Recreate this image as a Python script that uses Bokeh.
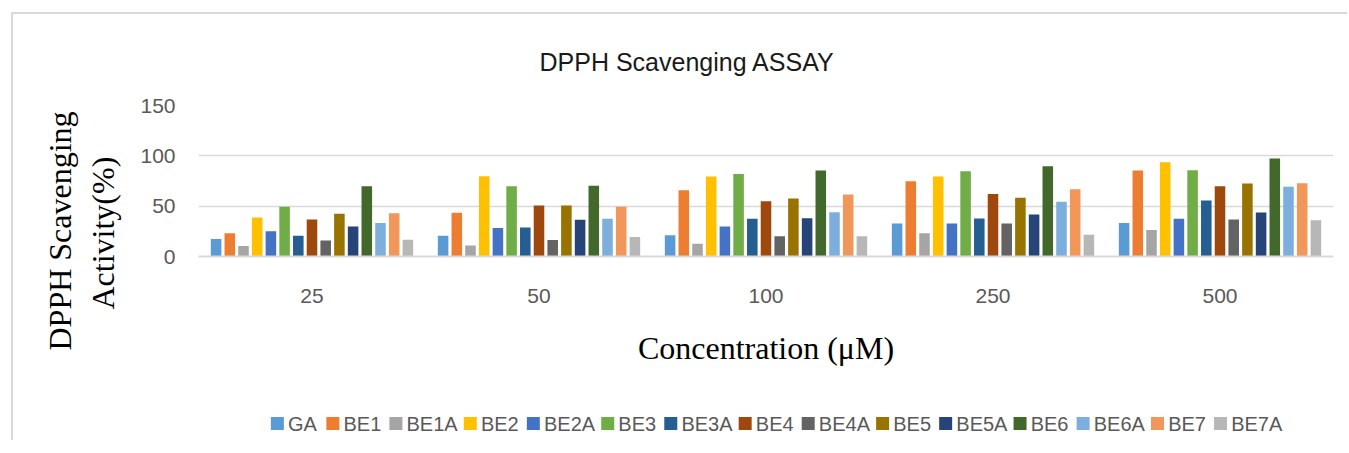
from bokeh.plotting import figure
from bokeh.layouts import column
from bokeh.models import ColumnDataSource, FactorRange, Range1d, Title, FixedTicker
from bokeh.core.properties import value
from bokeh.transform import dodge
from bokeh.embed import file_html
from bokeh.resources import INLINE

categories = ["25", "50", "100", "250", "500"]
series = ["GA", "BE1", "BE1A", "BE2", "BE2A", "BE3", "BE3A", "BE4",
          "BE4A", "BE5", "BE5A", "BE6", "BE6A", "BE7", "BE7A"]
colors = ["#5B9BD5", "#ED7D31", "#A5A5A5", "#FFC000", "#4472C4", "#70AD47",
          "#255E91", "#9E480E", "#636363", "#997300", "#264478", "#43682B",
          "#7CAFDD", "#F1975A", "#B7B7B7"]

GA = [17.4, 20.7, 21.0, 32.7, 33.4]
BE1 = [23.0, 43.4, 65.7, 74.7, 85.4]
BE1A = [10.4, 11.0, 12.7, 23.0, 26.4]
BE2 = [38.7, 79.7, 79.4, 79.4, 93.7]
BE2A = [25.0, 28.4, 29.7, 32.7, 37.4]
BE3 = [49.4, 69.7, 82.0, 84.7, 85.7]
BE3A = [20.7, 28.7, 37.4, 37.7, 55.7]
BE4 = [36.7, 50.7, 55.0, 62.0, 69.7]
BE4A = [16.0, 16.4, 20.0, 32.7, 36.7]
BE5 = [42.4, 50.7, 57.7, 58.4, 72.4]
BE5A = [29.7, 36.4, 38.0, 41.7, 43.7]
BE6 = [69.7, 70.4, 85.4, 89.7, 97.4]
BE6A = [33.4, 37.4, 44.0, 54.4, 69.4]
BE7 = [43.0, 49.4, 61.7, 66.7, 72.7]
BE7A = [16.7, 19.4, 20.0, 21.7, 36.0]

y_ticks = [0, 50, 100, 150]

values = [GA, BE1, BE1A, BE2, BE2A, BE3, BE3A, BE4, BE4A, BE5, BE5A, BE6, BE6A, BE7, BE7A]
data = {"cat": categories}
for name, vals in zip(series, values):
    data[name] = vals
source = ColumnDataSource(data)

p = figure(x_range=FactorRange(*categories, range_padding=0), y_range=Range1d(0, 150),
           frame_width=1135, frame_height=151, output_backend="svg", toolbar_location=None,
           min_border_left=185, min_border_right=14, min_border_top=91, min_border_bottom=144)

step = 0.06035
bw = 0.0465
n = len(series)
for i, (name, col) in enumerate(zip(series, colors)):
    off = (i - (n - 1) / 2) * step
    p.vbar(x=dodge("cat", off, range=p.x_range), top=name, width=bw, source=source,
           color=col, line_color=None)

p.outline_line_color = None
p.xgrid.grid_line_color = None
p.ygrid.grid_line_color = "#d9d9d9"
p.ygrid.grid_line_width = 1.5
p.yaxis.ticker = FixedTicker(ticks=y_ticks)
p.yaxis.axis_line_color = None
p.yaxis.major_tick_line_color = None
p.yaxis.minor_tick_line_color = None
p.yaxis.major_label_standoff = 17
p.yaxis.major_label_text_font = "Liberation Sans"
p.yaxis.major_label_text_font_size = "21px"
p.yaxis.major_label_text_color = "#595959"
p.xaxis.axis_line_color = "#d9d9d9"
p.xaxis.axis_line_width = 2
p.xaxis.major_tick_line_color = None
p.xaxis.minor_tick_line_color = None
p.xaxis.major_label_standoff = 26
p.xaxis.major_label_text_font = "Liberation Sans"
p.xaxis.major_label_text_font_size = "21px"
p.xaxis.major_label_text_color = "#595959"

p.add_layout(Title(text="DPPH Scavenging ASSAY", align="left", offset=341, standoff=60,
                   text_font="Liberation Sans", text_font_size="25px",
                   text_font_style="normal", text_color="#1a1a1a"), "above")
p.add_layout(Title(text="Activity(%)", align="left", offset=-53, standoff=33,
                   text_font="Liberation Serif", text_font_size="32px",
                   text_font_style="normal", text_color="#000000"), "left")
p.add_layout(Title(text="DPPH Scavenging", align="left", offset=-94, standoff=-23,
                   text_font="Liberation Serif", text_font_size="32px",
                   text_font_style="normal", text_color="#000000"), "left")
p.add_layout(Title(text="Concentration (\u03bcM)", align="center", standoff=45,
                   text_font="Liberation Serif", text_font_size="32px",
                   text_font_style="normal", text_color="#000000"), "below")

# Legend strip below the chart: swatches and labels laid out from text widths
QW, QH = 1334, 40
q = figure(width=QW, height=QH, min_border=0, x_axis_type=None, y_axis_type=None,
           x_range=Range1d(0, QW), y_range=Range1d(0, QH),
           output_backend="svg", toolbar_location=None)
q.outline_line_color = None

# Arial / Liberation Sans advance widths (em) for the legend characters
char_w = {"G": 0.778, "A": 0.667, "B": 0.667, "E": 0.667, "1": 0.556, "2": 0.556,
          "3": 0.556, "4": 0.556, "5": 0.556, "6": 0.556, "7": 0.556}
fs = 20
sq = 13
standoff = 6
gap = 17.3
x_left = 86.2
y_mid = 17
sq_x, lab_x = [], []
for name in series:
    sq_x.append(x_left + sq / 2)
    lab_x.append(x_left + sq + standoff)
    tw = sum(char_w.get(c, 0.6) for c in name) * fs
    x_left += sq + standoff + tw + gap

leg_src = ColumnDataSource(dict(sx=sq_x, lx=lab_x, y=[y_mid] * n, name=series, color=colors))
q.scatter(x="sx", y="y", marker="square", size=sq, fill_color="color", line_color=None,
          source=leg_src)
q.text(x="lx", y="y", text="name", source=leg_src, text_align="left", text_baseline="middle",
       text_font=value("Liberation Sans"), text_font_size="20px", text_color="#595959")

layout = column(p, q, spacing=0)
layout.styles = {"margin-left": "11px", "margin-top": "12px",
                 "border-left": "2px solid #d9d9d9", "border-top": "2px solid #d9d9d9"}

open("out.html", "w").write(file_html(layout, INLINE))
